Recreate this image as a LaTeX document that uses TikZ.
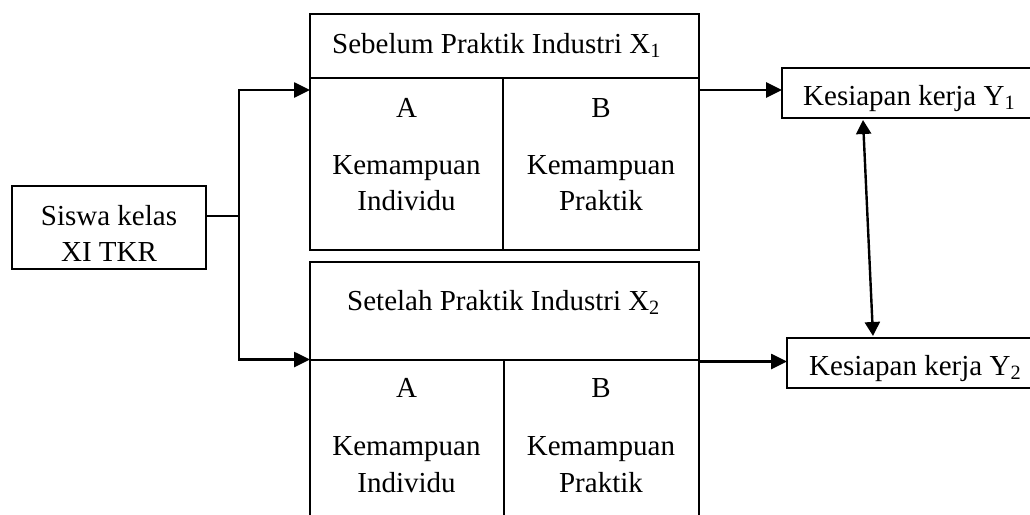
\documentclass[tikz,border=0pt]{standalone}
\usepackage{fontspec}
\setmainfont{Liberation Serif}
\usetikzlibrary{arrows.meta}

\begin{document}
\begin{tikzpicture}[x=1pt,y=-1pt,
  cell/.style={draw, line width=2pt, inner sep=0pt, outer sep=0pt},
  txt/.style={font=\fontsize{29}{36}\selectfont, inner sep=0pt, anchor=base},
  txtl/.style={txt, anchor=base west},
  wire/.style={line width=2pt},
  flow/.style={line width=2.6pt, -{Triangle[length=16pt,width=15pt]}},
  link/.style={line width=2.4pt, {Triangle[length=14pt,width=15pt]}-{Triangle[length=14pt,width=15pt]}}]

\useasboundingbox (0,0) rectangle (1030,514);
\clip (0,0) rectangle (1030,514);

% source box
\node[cell, minimum width=194pt, minimum height=83pt] (siswa) at (109,227.5) {};
\node[txt] (siswaA) at (109,225) {Siswa kelas};
\node[txt] (siswaB) at (109,261) {XI TKR};

% before internship block
\node[cell, minimum width=389pt, minimum height=64pt] (hdr1) at (504.5,46) {};
\node[cell, minimum width=193pt, minimum height=172pt] (a1) at (406.5,164) {};
\node[cell, minimum width=196pt, minimum height=172pt] (b1) at (601,164) {};
\node[txtl] (hdr1t) at (332,53) {Sebelum Praktik Industri X\textsubscript{1}};
\node[txt] (a1l) at (406.5,117) {A};
\node[txt] (a1k) at (406.5,174) {Kemampuan};
\node[txt] (a1i) at (406.5,210) {Individu};
\node[txt] (b1l) at (601,117) {B};
\node[txt] (b1k) at (601,174) {Kemampuan};
\node[txt] (b1p) at (601,210) {Praktik};

% after internship block
\node[cell, minimum width=389pt, minimum height=97.5pt] (hdr2) at (504.5,310.75) {};
\node[cell, minimum width=193.5pt, minimum height=170.5pt] (a2) at (406.75,444.75) {};
\node[cell, minimum width=195.5pt, minimum height=170.5pt] (b2) at (601.25,444.75) {};
\node[txtl] (hdr2t) at (347,310) {Setelah Praktik Industri X\textsubscript{2}};
\node[txt] (a2l) at (406.5,397) {A};
\node[txt] (a2k) at (406.5,455) {Kemampuan};
\node[txt] (a2i) at (406.5,492) {Individu};
\node[txt] (b2l) at (601,397) {B};
\node[txt] (b2k) at (601,455) {Kemampuan};
\node[txt] (b2p) at (601,492) {Praktik};

% outcome boxes
\node[cell, minimum width=263pt, minimum height=50.5pt] (y1) at (913.5,92.75) {};
\node[txtl] (y1t) at (803,105) {Kesiapan kerja Y\textsubscript{1}};
\node[cell, minimum width=263pt, minimum height=50pt] (y2) at (918.5,363) {};
\node[txtl] (y2t) at (809,375) {Kesiapan kerja Y\textsubscript{2}};

% branch points
\coordinate (split) at (239,216);
\coordinate (in1) at (310,90);
\coordinate (in2) at (310,359.5);
\coordinate (out2) at (699,361.5);

% connectors
\draw[wire] (siswa.east |- split) -- (split);
\draw[flow] (split) |- (in1);
\draw[flow] (split) |- (in2);
\draw[flow] (b1.east |- in1) -- (y1.west |- in1);
\draw[flow] (out2) -- (y2.west |- out2);
\draw[link] ([xshift=81pt,yshift=-2pt]y1.south west) -- ([xshift=86pt,yshift=2pt]y2.north west);
\end{tikzpicture}
\end{document}
